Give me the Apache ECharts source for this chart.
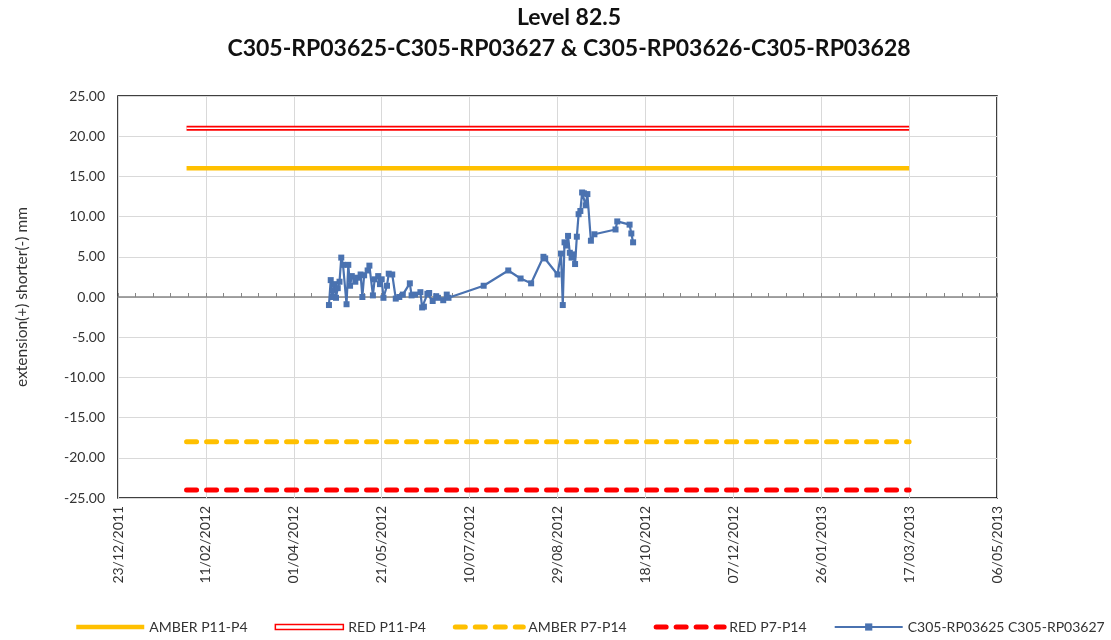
<!DOCTYPE html>
<html>
<head>
<meta charset="utf-8">
<title>Level 82.5</title>
<script src="https://cdn.jsdelivr.net/npm/echarts@6/dist/echarts.min.js"></script>
<style>
  html, body { margin: 0; padding: 0; background: #fff; }
  #chart { width: 1111px; height: 640px; }
</style>
</head>
<body>
<div id="chart"></div>
<script>
// readings of C305-RP03625 C305-RP03627 (mm)
const readDates = [
  '2012-04-21', '2012-04-22', '2012-04-23', '2012-04-24', '2012-04-25', '2012-04-26', '2012-04-27', '2012-04-28',
  '2012-04-29', '2012-05-01', '2012-05-02', '2012-05-03', '2012-05-04', '2012-05-06', '2012-05-07', '2012-05-09',
  '2012-05-10', '2012-05-11', '2012-05-13', '2012-05-14', '2012-05-16', '2012-05-17', '2012-05-19', '2012-05-20',
  '2012-05-21', '2012-05-22', '2012-05-24', '2012-05-25', '2012-05-27', '2012-05-29', '2012-05-31', '2012-06-02',
  '2012-06-06', '2012-06-07', '2012-06-09', '2012-06-12', '2012-06-13', '2012-06-14', '2012-06-16', '2012-06-17',
  '2012-06-19', '2012-06-21', '2012-06-22', '2012-06-25', '2012-06-27', '2012-06-28', '2012-07-18', '2012-08-01',
  '2012-08-08', '2012-08-14', '2012-08-21', '2012-08-22', '2012-08-29', '2012-08-31', '2012-09-01', '2012-09-02',
  '2012-09-03', '2012-09-04', '2012-09-05', '2012-09-06', '2012-09-07', '2012-09-08', '2012-09-09', '2012-09-10',
  '2012-09-11', '2012-09-12', '2012-09-13', '2012-09-14', '2012-09-15', '2012-09-17', '2012-09-19', '2012-10-01',
  '2012-10-02', '2012-10-09', '2012-10-10', '2012-10-11'
];
const readValues = [
  -1.0, 2.1, 0.0, 1.6, -0.1, 1.1, 1.9, 4.9,
  4.0, -0.9, 4.0, 1.4, 2.6, 1.9, 2.4, 2.8,
  0.0, 2.7, 3.3, 3.9, 0.2, 2.2, 2.6, 1.6,
  2.2, -0.1, 1.4, 2.9, 2.8, -0.2, 0.0, 0.3,
  1.7, 0.2, 0.3, 0.6, -1.3, -1.2, 0.4, 0.5,
  -0.5, 0.1, -0.1, -0.4, 0.3, -0.1, 1.4, 3.3,
  2.3, 1.7, 5.0, 4.8, 2.8, 5.4, -1.0, 6.8,
  6.4, 7.6, 5.5, 4.9, 5.3, 4.1, 7.5, 10.3,
  10.7, 13.0, 12.9, 11.4, 12.8, 7.0, 7.8, 8.4,
  9.4, 9.0, 7.9, 6.8
];

// trigger levels
const limitDates = ['2012-01-31', '2013-03-17'];
const amberP11P4 = [16, 16];
const redP11P4 = [21, 21];
const amberP7P14 = [-18, -18];
const redP7P14 = [-24, -24];

// axes
const xMinDate = '2011-12-23';
const xMaxDate = '2013-05-06';
const xStepDays = 50;
const yMin = -25, yMax = 25, yStep = 5;

const EXCEL_EPOCH = Date.UTC(1899, 11, 30);
const DAY = 86400000;
function toSerial(s) {
  const p = s.split('-');
  return (Date.UTC(+p[0], +p[1] - 1, +p[2]) - EXCEL_EPOCH) / DAY;
}
function fmtSerial(v) {
  const d = new Date(EXCEL_EPOCH + v * DAY);
  const dd = String(d.getUTCDate()).padStart(2, '0');
  const mm = String(d.getUTCMonth() + 1).padStart(2, '0');
  return dd + '/' + mm + '/' + d.getUTCFullYear();
}
function pairs(ds, vs) {
  return ds.map((d, i) => [toSerial(d), vs[i]]);
}

const FONT = 'Lato';
const TXT = '#333';
const NO_SYMBOL = { color: 'rgba(0,0,0,0)', borderWidth: 0 };
const chart = echarts.init(document.getElementById('chart'));

const limitLine = (name, vals, color, width, dashed) => ({
  name: name,
  type: 'line',
  data: pairs(limitDates, vals),
  symbol: 'none',
  silent: true,
  z: 2,
  lineStyle: {
    color: color,
    width: width,
    type: dashed ? [10, 10] : 'solid',
    cap: dashed ? 'round' : 'butt'
  },
  itemStyle: { color: color }
});

const option = {
  animation: false,
  backgroundColor: '#fff',
  textStyle: { fontFamily: FONT },
  graphic: [
    {
      type: 'text', x: 569, y: 18,
      style: { text: 'Level 82.5', align: 'center', verticalAlign: 'middle', fontFamily: FONT, fontWeight: 'bold', fontSize: 23, fill: '#111' }
    },
    {
      type: 'text', x: 569, y: 49,
      style: { text: 'C305-RP03625-C305-RP03627 & C305-RP03626-C305-RP03628', align: 'center', verticalAlign: 'middle', fontFamily: FONT, fontWeight: 'bold', fontSize: 23, fill: '#111' }
    }
  ],
  grid: {
    left: 118, right: 114, top: 96, bottom: 142,
    show: true, borderColor: '#000', borderWidth: 1.5, backgroundColor: 'transparent'
  },
  legend: {
    left: 69,
    bottom: 1,
    width: 1080,
    itemWidth: 68,
    itemHeight: 9,
    itemGap: 27,
    lineStyle: { width: 'inherit' },
    textStyle: { fontFamily: FONT, fontSize: 14, color: TXT },
    data: [
      { name: 'AMBER P11-P4', itemStyle: NO_SYMBOL },
      {
        name: 'RED P11-P4',
        icon: 'path://M0,0 M68,9 M0,2 L68,2 L68,7 L0,7 Z',
        itemStyle: { color: '#fff', borderColor: '#ff0000', borderWidth: 1.5 }
      },
      { name: 'AMBER P7-P14', itemStyle: NO_SYMBOL },
      { name: 'RED P7-P14', itemStyle: NO_SYMBOL },
      'C305-RP03625 C305-RP03627'
    ]
  },
  xAxis: [
    {
      type: 'value',
      min: toSerial(xMinDate),
      max: toSerial(xMaxDate),
      interval: xStepDays,
      axisLine: { show: false, onZero: false },
      axisTick: { show: false },
      splitLine: { show: true, lineStyle: { color: '#d9d9d9', width: 1 } },
      axisLabel: {
        rotate: 90,
        margin: 8,
        fontSize: 14,
        fontFamily: FONT,
        color: TXT,
        showMinLabel: true,
        showMaxLabel: true,
        formatter: fmtSerial
      }
    },
    {
      type: 'value',
      position: 'bottom',
      min: toSerial(xMinDate),
      max: toSerial(xMaxDate),
      interval: xStepDays,
      axisLine: { show: true, onZero: true, lineStyle: { color: '#868686', width: 1.5 } },
      axisTick: { show: true, inside: true, length: 4, lineStyle: { color: '#868686', width: 1 } },
      minorTick: { show: true, splitNumber: 5, length: 4, lineStyle: { color: '#868686', width: 1 } },
      axisLabel: { show: false },
      splitLine: { show: false }
    }
  ],
  yAxis: {
    type: 'value',
    min: yMin,
    max: yMax,
    interval: yStep,
    axisLine: { show: false, onZero: false },
    axisTick: { show: false },
    splitLine: { lineStyle: { color: '#d9d9d9', width: 1 } },
    axisLabel: {
      margin: 13,
      fontSize: 14,
      fontFamily: FONT,
      color: TXT,
      formatter: v => v.toFixed(2)
    },
    name: 'extension(+) shorter(-) mm',
    nameLocation: 'middle',
    nameGap: 88,
    nameTextStyle: { fontFamily: FONT, fontSize: 15.5, color: TXT }
  },
  series: [
    limitLine('AMBER P11-P4', amberP11P4, '#ffc000', 4.5, false),
    limitLine('RED P11-P4', redP11P4, '#ff0000', 5, false),
    {
      name: 'red-inner',
      type: 'line',
      data: pairs(limitDates, redP11P4),
      symbol: 'none',
      silent: true,
      z: 3,
      lineStyle: { color: '#fff', width: 1.5 }
    },
    limitLine('AMBER P7-P14', amberP7P14, '#ffc000', 5, true),
    limitLine('RED P7-P14', redP7P14, '#ff0000', 5, true),
    {
      name: 'C305-RP03625 C305-RP03627',
      type: 'line',
      data: pairs(readDates, readValues),
      symbol: 'rect',
      symbolSize: 6,
      z: 5,
      lineStyle: { color: '#4a72b0', width: 2.2 },
      itemStyle: { color: '#4a72b0' }
    }
  ]
};

chart.setOption(option);
</script>
</body>
</html>
